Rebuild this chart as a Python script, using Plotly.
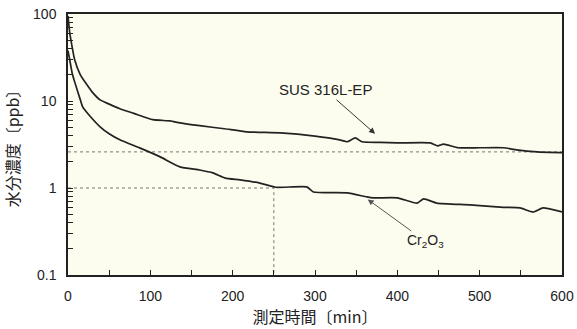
import math
import plotly.graph_objects as go

# --- data ---
sus_time = [0, 2, 5, 8, 15, 23, 30, 39, 50, 63, 80, 103, 124, 136, 160, 190, 217, 258,
            300, 330, 339, 349, 357, 379, 400, 440, 449, 456, 474, 500, 529, 545, 570, 600]
sus_ppb = [95, 62, 42, 30, 20, 15.4, 12.5, 10.3, 9.2, 8.15, 7.2, 6.1, 5.9, 5.6, 5.2, 4.8, 4.42, 4.3,
           3.95, 3.57, 3.4, 3.77, 3.4, 3.35, 3.3, 3.3, 3.05, 3.2, 2.9, 2.9, 2.9, 2.74, 2.6, 2.55]

cr_time = [0, 2, 5, 8, 15, 18, 25, 39, 50, 63, 87, 112, 136, 160, 176, 191, 209, 233,
           252, 290, 298, 339, 363, 371, 400, 424, 432, 448, 488, 529, 549, 565, 577, 600]
cr_ppb = [38, 30, 21, 16.7, 10.3, 8.5, 7, 5.05, 4.2, 3.58, 2.89, 2.28, 1.75, 1.61, 1.49, 1.3, 1.24, 1.14,
          1.02, 1.03, 0.9, 0.88, 0.79, 0.77, 0.77, 0.67, 0.75, 0.67, 0.64, 0.6, 0.59, 0.53, 0.59, 0.53]

ref_time = 250
ref_level_cr = 1.0
ref_level_sus = 2.6

x_ticks = list(range(0, 601, 50))
x_tick_text = [str(v) if v % 100 == 0 else "" for v in x_ticks]
y_decades = [0.1, 1, 10]
y_ticks = [round(d * k, 3) for d in y_decades for k in range(1, 10)] + [100]
y_tick_text = {0.1: "0.1", 1: "1", 10: "10", 100: "100"}

sus_label_at = (373, 4.2)
cr_label_at = (364, 0.74)

ink = "#222222"
latin = "Liberation Sans, Arial, sans-serif"
cjk = "Noto Sans CJK JP"

fig = go.Figure()

# dotted reference lines
fig.add_trace(go.Scatter(x=[0, ref_time, ref_time], y=[ref_level_cr, ref_level_cr, 0.1],
                         mode="lines", line=dict(color="#777", width=1, dash="dot"),
                         hoverinfo="skip", showlegend=False))
fig.add_trace(go.Scatter(x=[0, 600], y=[ref_level_sus, ref_level_sus],
                         mode="lines", line=dict(color="#777", width=1, dash="dot"),
                         hoverinfo="skip", showlegend=False))

fig.add_trace(go.Scatter(x=sus_time, y=sus_ppb, mode="lines", name="SUS 316L-EP",
                         line=dict(color=ink, width=1.7, shape="spline", smoothing=0.5),
                         showlegend=False))
fig.add_trace(go.Scatter(x=cr_time, y=cr_ppb, mode="lines", name="Cr2O3",
                         line=dict(color=ink, width=1.7, shape="spline", smoothing=0.5),
                         showlegend=False))

fig.add_annotation(x=sus_label_at[0], y=math.log10(sus_label_at[1]), xref="x", yref="y",
                   ax=-50, ay=-44, text="SUS 316L-EP", showarrow=True, arrowhead=2, arrowsize=1.2,
                   arrowwidth=1, arrowcolor="#333", font=dict(family=latin, size=15, color=ink))
fig.add_annotation(x=cr_label_at[0], y=math.log10(cr_label_at[1]), xref="x", yref="y",
                   ax=58, ay=42, text="Cr<sub>2</sub>O<sub>3</sub>", showarrow=True, arrowhead=2,
                   arrowsize=1.2, arrowwidth=1, arrowcolor="#555",
                   font=dict(family=latin, size=14, color=ink))

fig.update_layout(
    width=577, height=329,
    margin=dict(l=68, r=15, t=14, b=54),
    paper_bgcolor="white",
    plot_bgcolor="#fdfdef",
    font=dict(family=latin, size=14, color=ink),
)
fig.update_xaxes(
    range=[0, 600], tickmode="array", tickvals=x_ticks, ticktext=x_tick_text,
    ticks="inside", ticklen=5, tickcolor=ink, automargin=False, ticklabelstandoff=7,
    showline=True, linecolor=ink, linewidth=1.5, mirror=True, showgrid=False, zeroline=False,
    tickfont=dict(family=latin, size=14),
    title=dict(text="測定時間〔min〕", font=dict(family=cjk, size=16, color=ink), standoff=8),
)
fig.update_yaxes(
    type="log", range=[-1, 2], tickmode="array", tickvals=y_ticks,
    ticktext=[y_tick_text.get(v, "") for v in y_ticks],
    ticks="inside", ticklen=5, tickcolor=ink, automargin=False, ticklabelstandoff=7,
    showline=True, linecolor=ink, linewidth=1.5, mirror=True, showgrid=False, zeroline=False,
    tickfont=dict(family=latin, size=14),
    title=dict(text="水分濃度〔ppb〕", font=dict(family=cjk, size=16, color=ink), standoff=12),
)

fig.write_html("out.html")
